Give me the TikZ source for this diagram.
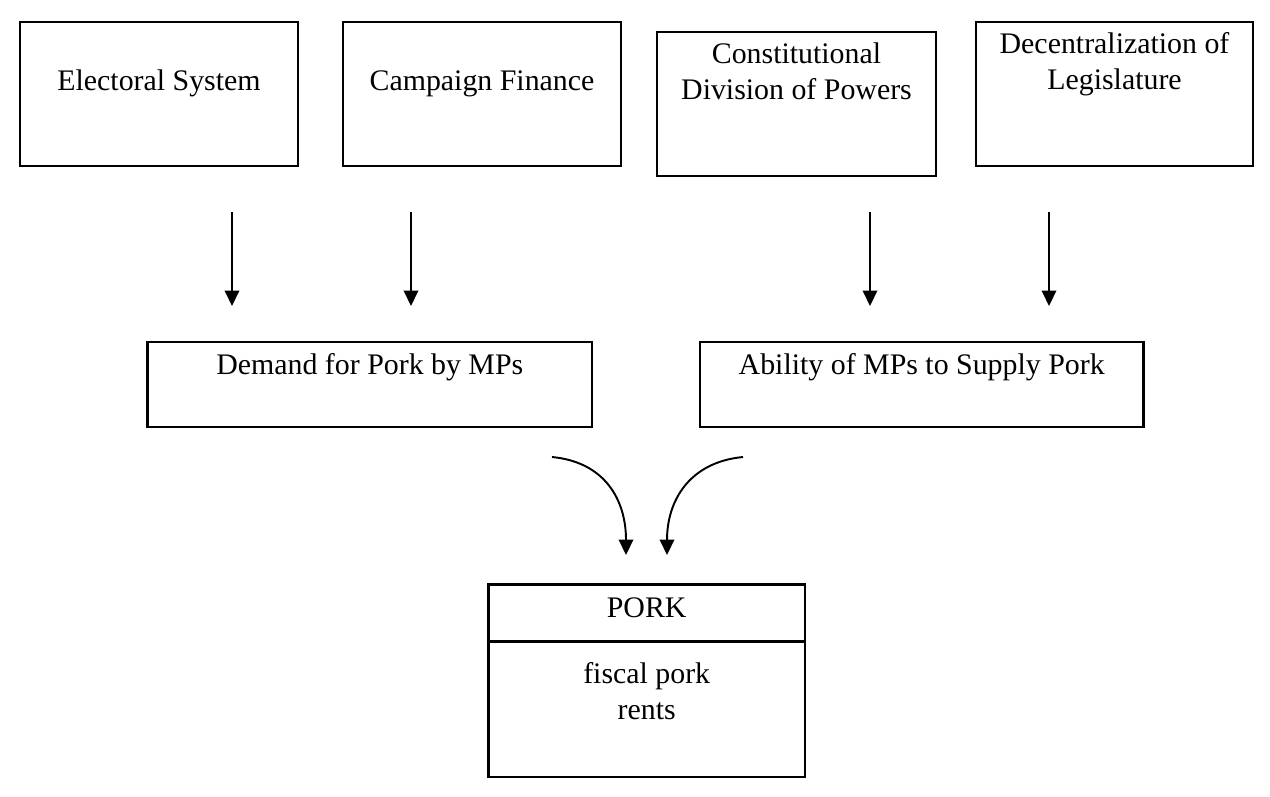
\documentclass[tikz,border=0pt]{standalone}
\usepackage{fontspec}
\setmainfont{Liberation Serif}
\usetikzlibrary{arrows.meta}
\tikzset{
    box/.style={draw, line width=1.4pt, inner sep=0pt},
    txt/.style={anchor=base, align=center, inner sep=0pt, font=\fontsize{17}{20.5}\selectfont},
    arr/.style={line width=1.1pt, -{Triangle[length=0.31cm, width=0.29cm]}},
}
\begin{document}
\begin{tikzpicture}[x=0.02cm, y=-0.02cm]
    \useasboundingbox (0,0) rectangle (1270,796);
    %% top boxes
    \node[box, minimum width=5.56cm, minimum height=2.88cm] (elec) at (159,94) {};
    \node[box, minimum width=5.56cm, minimum height=2.88cm] (camp) at (482,94) {};
    \node[box, minimum width=5.58cm, minimum height=2.89cm] (const) at (796.5,104) {};
    \node[box, minimum width=5.54cm, minimum height=2.88cm] (decen) at (1114.5,94) {};
    \node[txt] (electxt) at (159,90.5) {Electoral System};
    \node[txt] (camptxt) at (482,90.5) {Campaign Finance};
    \node[txt] (consttxt) at (796.5,99.5) {Constitutional\\Division of Powers};
    \node[txt] (decentxt) at (1114.5,89.5) {Decentralization of\\Legislature};
    %% middle boxes
    \node[box, minimum width=8.9cm, minimum height=1.71cm] (demand) at (369.8,384.5) {};
    \node[box, minimum width=8.87cm, minimum height=1.71cm] (supply) at (921.7,384.5) {};
    \node[txt] (demandtxt) at (369.8,374) {Demand for Pork by MPs};
    \node[txt] (supplytxt) at (921.7,374) {Ability of MPs to Supply Pork};
    %% pork box
    \node[box, minimum width=6.33cm, minimum height=3.85cm] (pork) at (646.7,680.7) {};
    \draw[line width=1.4pt] (pork.west |- 0,641.7) -- (pork.east |- 0,641.7);
    \node[txt] (porktxt) at (646.7,617) {PORK};
    \node[txt] (renttxt) at (646.7,719) {fiscal pork\\rents};
    %% straight arrows
    \foreach \name/\x in {a/232, b/411, c/870, d/1049} {
        \coordinate (\name s) at (\x,212);
        \coordinate (\name e) at (\x,306);
        \draw[arr] (\name s) -- (\name e);
    }
    %% curved arrows
    \coordinate (ls) at (552,457);
    \coordinate (le) at (626,555);
    \coordinate (rs) at (743,457);
    \coordinate (re) at (667,555);
    \draw[arr] (ls) .. controls (605,462) and (626,500) .. (le);
    \draw[arr] (rs) .. controls (690,462) and (667,500) .. (re);
\end{tikzpicture}
\end{document}
